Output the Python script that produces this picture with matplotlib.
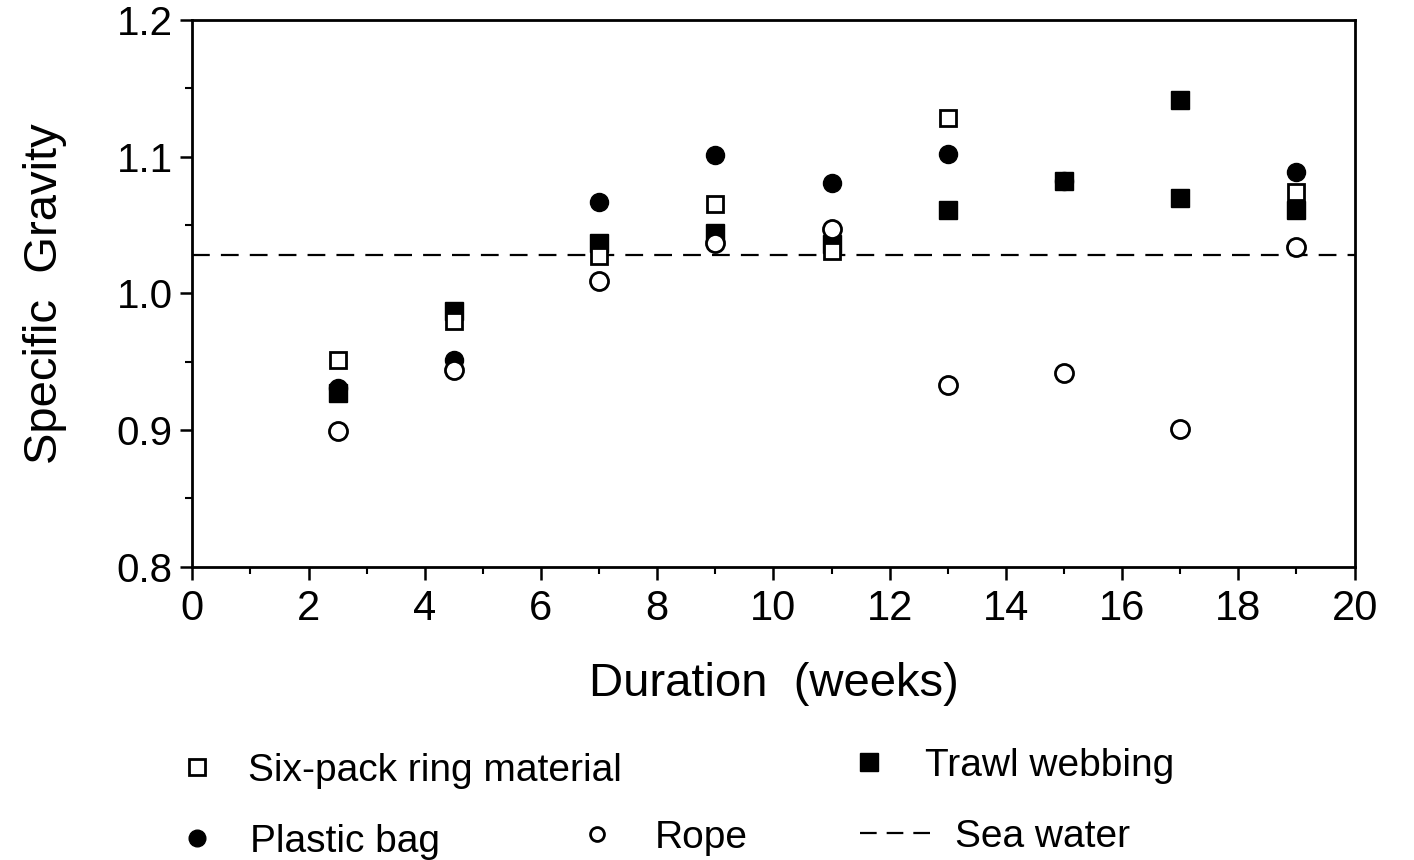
import matplotlib
matplotlib.use("Agg")
import matplotlib.pyplot as plt
from matplotlib.lines import Line2D
from matplotlib.ticker import MultipleLocator, FormatStrFormatter

plt.rcParams['font.family'] = ['Liberation Sans', 'DejaVu Sans']

# data (duration in weeks, specific gravity)
sixpack_x = [2.5, 4.5, 7, 9, 11, 13, 19]
sixpack_y = [0.951, 0.980, 1.027, 1.065, 1.031, 1.128, 1.074]

trawl_x = [2.5, 4.5, 7, 9, 11, 13, 15, 17, 17, 19]
trawl_y = [0.927, 0.987, 1.037, 1.044, 1.036, 1.061, 1.082, 1.141, 1.070, 1.061]

bag_x = [2.5, 4.5, 7, 9, 11, 13, 15, 19]
bag_y = [0.931, 0.951, 1.067, 1.101, 1.081, 1.102, 1.082, 1.089]

rope_x = [2.5, 4.5, 7, 9, 11, 13, 15, 17, 19]
rope_y = [0.899, 0.944, 1.009, 1.037, 1.047, 0.933, 0.942, 0.901, 1.034]

sea_water = 1.028

W, H = 1414, 860
fig = plt.figure(figsize=(W / 100, H / 100), dpi=100)
ax = fig.add_axes([0.136, 0.341, 0.822, 0.636])

ms = 13
ax.axhline(sea_water, color='black', lw=1.6, dashes=(8, 5), zorder=1)
ax.plot(trawl_x, trawl_y, 's', ms=ms, mfc='black', mec='black', ls='none', zorder=2)
ax.plot(sixpack_x, sixpack_y, 's', ms=ms - 1, mfc='white', mec='black', mew=2, ls='none', zorder=3)
ax.plot(bag_x, bag_y, 'o', ms=ms, mfc='black', mec='black', ls='none', zorder=4)
ax.plot(rope_x, rope_y, 'o', ms=ms, mfc='white', mec='black', mew=2, ls='none', zorder=5)

ax.set_xlim(0, 20)
ax.set_ylim(0.8, 1.2)
ax.xaxis.set_major_locator(MultipleLocator(2))
ax.xaxis.set_minor_locator(MultipleLocator(1))
ax.yaxis.set_major_locator(MultipleLocator(0.1))
ax.yaxis.set_minor_locator(MultipleLocator(0.05))
ax.yaxis.set_major_formatter(FormatStrFormatter('%.1f'))
ax.tick_params(which='major', direction='out', length=9, width=1.8)
ax.tick_params(which='minor', direction='out', length=5, width=1.5)
ax.tick_params(axis='x', labelsize=30, pad=7)
ax.tick_params(axis='y', labelsize=29, pad=5)
for s in ax.spines.values():
    s.set_linewidth(2)

ax.set_xlabel('Duration  (weeks)', fontsize=34, labelpad=24)
ax.set_ylabel('Specific  Gravity', fontsize=34, labelpad=36)

# legend entries placed one by one to follow the original layout
# (handle start px, centre y px, handle length, text pad)
fs = 28
entries = [
    (Line2D([], [], marker='s', ls='none', ms=11, mfc='white', mec='black', mew=2),
     'Six-pack ring material', 178, 771, 1.0, 0.8),
    (Line2D([], [], marker='s', ls='none', ms=13, mfc='black', mec='black'),
     'Trawl webbing', 850, 766, 1.0, 0.92),
    (Line2D([], [], marker='o', ls='none', ms=12, mfc='black', mec='black'),
     'Plastic bag', 178, 842, 1.0, 0.85),
    (Line2D([], [], marker='o', ls='none', ms=10, mfc='white', mec='black', mew=2),
     'Rope', 578, 838, 1.0, 0.97),
    (Line2D([], [], color='black', lw=1.6, dashes=(7.5, 4.5)),
     'Sea water', 860, 837, 1.8, 0.64),
]
for handle, label, px, py, hl, tp in entries:
    fig.legend(handles=[handle], labels=[label], loc='center left',
               bbox_to_anchor=(px / W, 1 - py / H), frameon=False, fontsize=fs,
               handlelength=hl, handletextpad=tp, borderpad=0, borderaxespad=0)

fig.savefig('out.png', dpi=100)
